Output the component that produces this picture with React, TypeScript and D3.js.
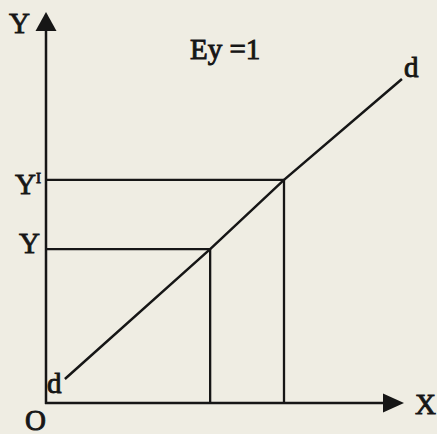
import React from "react";
import * as d3 from "d3";

const W = 437;
const H = 434;

// Demand curve d-d (quantity, price)
const demandQ = [0.54, 4.69, 6.8, 10.17];
const demandP = [0.68, 4.36, 6.32, 9.18];
// indices of the two marked points (Y and Y')
const markedIdx = [1, 2];
const levelLabels = ["Y", "Y"];
const axisLabels = { x: "X", y: "Y", origin: "O" };
const title = "Ey =1";

const ink = "#161616";
const bg = "#efede3";
const font = "'Liberation Serif', 'Times New Roman', serif";

export default function App() {
  const x = d3.scaleLinear().domain([0, 10]).range([46, 396]);
  const y = d3.scaleLinear().domain([0, 10]).range([403, 50]);

  const pts: [number, number][] = demandQ.map((q, i) => [q, demandP[i]]);
  const line = d3
    .line<[number, number]>()
    .x((d) => x(d[0]))
    .y((d) => y(d[1]));

  const x0 = x(0);
  const y0 = y(0);
  const yTop = 12;
  const xEnd = 404;

  const p1 = pts[markedIdx[0]];
  const p2 = pts[markedIdx[1]];
  const first = pts[0];
  const last = pts[pts.length - 1];

  return (
    <svg
      width={W}
      height={H}
      style={{ position: "absolute", left: 0, top: 0, background: bg }}
      fontFamily={font}
    >
      <rect x={0} y={0} width={W} height={H} fill={bg} />
      {/* axes */}
      <line x1={x0} y1={y0 + 1} x2={x0} y2={yTop + 14} stroke={ink} strokeWidth={2.5} />
      <line x1={x0 - 1} y1={y0} x2={xEnd - 14} y2={y0} stroke={ink} strokeWidth={2.5} />
      <path
        d={`M${x0},${yTop} L${x0 - 10.5},${yTop + 19} L${x0 + 10.5},${yTop + 19} Z`}
        fill={ink}
      />
      <path
        d={`M${xEnd},${y0} L${xEnd - 21},${y0 - 9.5} L${xEnd - 21},${y0 + 9.5} Z`}
        fill={ink}
      />

      {/* demand line */}
      <path d={line(pts) || ""} fill="none" stroke={ink} strokeWidth={2.5} />

      {/* guide lines */}
      {[p1, p2].map((p, i) => (
        <g key={i}>
          <line x1={x0} y1={y(p[1])} x2={x(p[0])} y2={y(p[1])} stroke={ink} strokeWidth={2.3} />
          <line x1={x(p[0])} y1={y(p[1])} x2={x(p[0])} y2={y0} stroke={ink} strokeWidth={2.3} />
        </g>
      ))}

      {/* labels */}
      <g fill={ink} stroke={ink} strokeWidth={0.9} fontSize={29}>
        <text x={x0 - 16} y={33} textAnchor="end">{axisLabels.y}</text>
        <text x={190} y={59}>{title}</text>
        <text x={x(last[0]) + 2} y={y(last[1]) - 2}>d</text>
        <text x={x(first[0]) - 18} y={y(first[1]) + 14}>d</text>
        <text x={x0 - 5} y={y(p2[1]) + 14} textAnchor="end">
          {levelLabels[1]}
          <tspan fontSize={15} dy={-11}>I</tspan>
        </text>
        <text x={x0 - 6} y={y(p1[1]) + 4} textAnchor="end">{levelLabels[0]}</text>
        <text x={x0 - 21} y={430}>{axisLabels.origin}</text>
        <text x={xEnd + 11} y={414}>{axisLabels.x}</text>
      </g>
    </svg>
  );
}
